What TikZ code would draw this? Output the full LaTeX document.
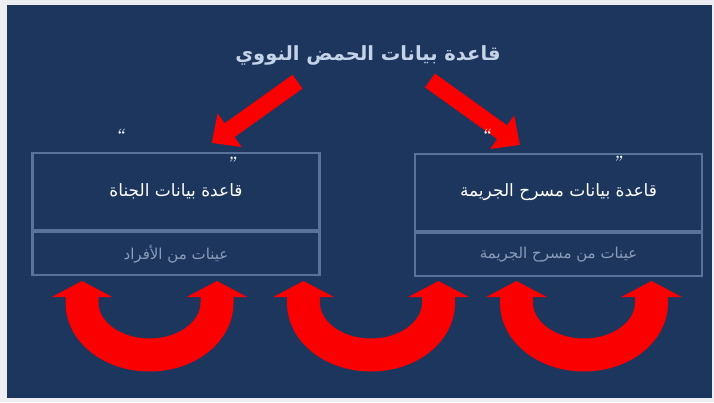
\documentclass[tikz,border=0pt]{standalone}
\usepackage{fontspec}
\usetikzlibrary{arrows.meta,positioning}
\TeXXeTstate=1
\newfontfamily\arabicfont[Script=Arabic]{DejaVu Sans}
\definecolor{slidebg}{RGB}{28,54,94}
\definecolor{pageedge}{RGB}{236,238,242}
\definecolor{boxline}{RGB}{88,114,156}
\definecolor{titleblue}{RGB}{196,211,232}
\definecolor{sampletext}{RGB}{138,156,186}
\definecolor{arrowred}{RGB}{250,0,0}
\begin{document}
\begin{tikzpicture}[x=1pt,y=1pt]
		\tikzstyle{every node}+=[inner sep=0pt]
		\tikzstyle{dbbox}=[draw=boxline, line width=2.2pt, minimum width=287pt, minimum height=77pt, text=white, font=\arabicfont\fontsize{17}{20}\selectfont]
		\tikzstyle{samplebox}=[draw=boxline, line width=2.2pt, minimum width=287pt, minimum height=43pt, text=sampletext, font=\arabicfont\fontsize{15}{18}\selectfont]
		\tikzstyle{quotemark}=[text=white, font=\bfseries\itshape\fontsize{15}{18}\selectfont]
		\tikzstyle{redarrow}=[draw=arrowred, line width=17pt, -{Triangle[length=22pt,width=40pt]}]
		\tikzstyle{uarrow}=[draw=arrowred, line width=33pt, {Triangle[length=16pt,width=60pt]}-{Triangle[length=16pt,width=60pt]}]
		\fill [pageedge] (0,0) rectangle (714,-402);
		\fill [slidebg] (7,-5) rectangle (712,-398);
		\node [text=titleblue, font=\arabicfont\bfseries\fontsize{19.5}{23}\selectfont] (dnabase) at (368,-55) {\beginR قاعدة بيانات الحمض النووي\endR};
		\node [dbbox] (offenders) at (176,-191.5) {\beginR قاعدة بيانات الجناة\endR};
		\node [samplebox, below=0pt of offenders] (personsamples) {\beginR عينات من الأفراد\endR};
		\node [dbbox] (crimescene) at (558.5,-192.5) {\beginR قاعدة بيانات مسرح الجريمة\endR};
		\node [samplebox, below=0pt of crimescene] (scenesamples) {\beginR عينات من مسرح الجريمة\endR};
		\coordinate (ltail) at (297.5,-81.7);
		\coordinate (ltip) at (211.7,-143);
		\coordinate (rtail) at (430,-80.5);
		\coordinate (rtip) at (520,-145);
		\draw [redarrow] (ltail) -- (ltip);
		\draw [redarrow] (rtail) -- (rtip);
		\node [quotemark] (lopen) at (120,-134) {“};
		\node [quotemark] (lclose) at (231,-162) {”};
		\node [quotemark] (ropen) at (486,-134) {“};
		\node [quotemark] (rclose) at (617,-161) {”};
		\coordinate (uleftA) at (82,-281);
		\coordinate (uleftB) at (217,-281);
		\coordinate (umidA) at (303.5,-281);
		\coordinate (umidB) at (438.5,-281);
		\coordinate (urightA) at (516.5,-281);
		\coordinate (urightB) at (651.5,-281);
		\draw [uarrow] (uleftA) -- ++(0,-22) arc [start angle=180, end angle=360, x radius=67.5, y radius=52] -- (uleftB);
		\draw [uarrow] (umidA) -- ++(0,-22) arc [start angle=180, end angle=360, x radius=67.5, y radius=52] -- (umidB);
		\draw [uarrow] (urightA) -- ++(0,-22) arc [start angle=180, end angle=360, x radius=67.5, y radius=52] -- (urightB);
	\end{tikzpicture}
\end{document}
